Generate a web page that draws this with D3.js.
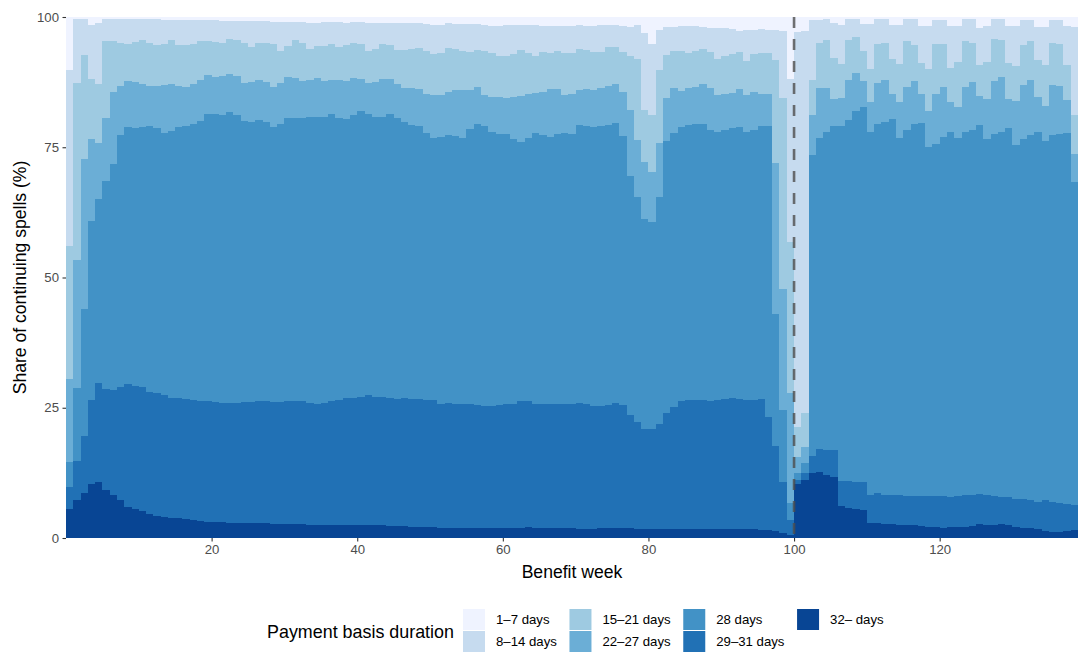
<!DOCTYPE html>
<html>
<head>
<meta charset="utf-8">
<script src="https://cdn.jsdelivr.net/npm/d3@7"></script>
<style>
  body { margin: 0; background: #fff; }
  svg { display: block; }
  text { font-family: "Liberation Sans", Arial, Helvetica, sans-serif; }
</style>
</head>
<body>
<svg id="chart" width="1078" height="652"></svg>
<script>
// Benefit weeks 1..139; each bar covers the interval [week-1, week]
const weeks = d3.range(1, 140);

// Payment basis duration categories, from top of the stack to the bottom
const durationLabels = ["1–7 days", "8–14 days", "15–21 days", "22–27 days", "28 days", "29–31 days", "32– days"];

// Share of continuing spells (%) by payment basis duration, one value per benefit week
const share_1_7 = [
  10.1, 0.4, 0.3, 1.5, 1.2, 0.4, 0.4, 0.4, 0.4, 0.4,
  0.4, 0.4, 0.4, 0.6, 0.6, 0.6, 0.6, 0.6, 0.6, 0.6,
  0.6, 0.7, 0.7, 0.7, 0.7, 0.7, 0.7, 0.7, 0.9, 0.9,
  0.9, 1.0, 1.0, 1.2, 1.1, 1.0, 1.0, 1.0, 1.2, 1.0,
  1.0, 1.2, 1.2, 1.2, 1.2, 1.2, 1.2, 1.2, 1.2, 1.4,
  1.5, 1.5, 1.2, 1.3, 1.3, 1.4, 1.4, 1.5, 1.7, 1.7,
  1.6, 1.6, 1.5, 1.6, 1.6, 1.7, 1.7, 1.8, 1.8, 1.8,
  1.5, 1.7, 1.7, 1.6, 1.5, 1.5, 1.7, 1.9, 1.5, 3.0,
  5.1, 2.5, 2.0, 1.9, 1.7, 1.7, 1.7, 1.9, 2.1, 2.1,
  2.2, 2.3, 2.6, 2.5, 2.4, 2.3, 2.4, 2.4, 2.6, 11.9,
  2.8, 2.6, 0.6, 0.5, 0.4, 1.2, 1.5, 0.4, 0.4, 1.4,
  1.4, 0.4, 0.4, 1.5, 1.5, 0.4, 0.4, 1.7, 1.7, 0.6,
  0.6, 1.7, 1.7, 0.4, 0.4, 2.2, 1.7, 0.4, 0.4, 1.7,
  1.7, 0.6, 0.6, 1.9, 1.9, 0.6, 0.6, 1.7, 2.0
];
const share_8_14 = [
  33.9, 12.2, 7.0, 10.4, 11.7, 4.2, 4.2, 4.5, 4.7, 4.4,
  4.0, 4.5, 4.9, 4.5, 3.9, 4.8, 4.8, 4.5, 4.1, 4.1,
  4.2, 4.2, 3.6, 3.8, 4.2, 5.1, 4.2, 4.2, 4.3, 5.6,
  4.6, 3.5, 3.9, 4.9, 4.5, 4.5, 4.2, 4.8, 4.2, 3.9,
  4.1, 5.3, 4.9, 4.0, 4.2, 5.2, 5.2, 5.0, 4.7, 5.1,
  5.6, 5.5, 4.8, 4.8, 5.3, 5.3, 5.0, 5.1, 5.2, 5.7,
  5.8, 5.5, 4.8, 5.4, 5.9, 5.1, 5.2, 4.8, 5.2, 5.2,
  4.6, 4.6, 5.1, 5.2, 4.3, 4.3, 5.1, 5.6, 6.5, 14.8,
  13.7, 7.7, 5.2, 4.6, 4.8, 5.3, 4.8, 4.3, 4.6, 6.0,
  5.2, 4.8, 4.2, 5.9, 4.7, 4.7, 4.6, 5.9, 13.0, 31.2,
  75.8, 73.5, 11.5, 4.5, 4.0, 6.7, 7.5, 4.1, 3.5, 5.1,
  8.5, 4.8, 4.5, 6.6, 7.5, 4.2, 5.0, 7.1, 8.3, 4.6,
  4.5, 8.0, 6.9, 4.2, 4.5, 7.0, 6.9, 3.8, 4.0, 7.1,
  7.8, 4.8, 4.0, 6.4, 7.3, 4.3, 4.5, 7.6, 16.8
];
const share_15_21 = [
  25.5, 34.0, 20.0, 11.5, 11.2, 14.7, 9.7, 8.3, 7.2, 7.7,
  8.5, 8.3, 7.9, 8.0, 8.4, 7.8, 8.1, 7.8, 7.3, 6.5,
  6.7, 6.4, 6.6, 6.8, 7.8, 6.6, 7.2, 7.5, 8.2, 6.1,
  6.1, 7.3, 7.3, 6.0, 6.1, 6.7, 6.8, 6.3, 6.8, 6.8,
  6.8, 6.2, 6.4, 6.7, 6.5, 6.5, 7.2, 7.5, 7.9, 8.3,
  7.9, 8.0, 8.4, 8.0, 7.5, 7.3, 7.1, 8.4, 8.4, 8.0,
  8.2, 8.2, 8.9, 7.7, 7.1, 7.5, 6.9, 7.3, 8.0, 7.7,
  7.9, 7.5, 7.2, 6.9, 7.4, 7.1, 7.5, 10.3, 15.6, 10.0,
  10.9, 14.0, 8.4, 7.2, 7.7, 6.7, 6.9, 6.7, 7.0, 6.9,
  7.4, 7.4, 7.0, 6.6, 7.2, 7.8, 7.8, 19.8, 36.6, 29.1,
  5.8, 6.4, 6.7, 8.7, 9.3, 7.8, 6.6, 7.6, 6.8, 5.7,
  6.5, 7.5, 7.2, 6.6, 7.4, 8.8, 6.9, 5.9, 8.0, 9.5,
  8.4, 6.6, 8.6, 8.9, 7.5, 6.0, 7.2, 8.1, 7.2, 7.0,
  6.6, 7.7, 7.4, 7.1, 7.9, 8.2, 8.1, 6.6, 7.5
];
const share_22_27 = [
  16.0, 24.7, 28.8, 15.8, 10.9, 12.2, 13.9, 9.5, 8.8, 8.9,
  8.3, 7.7, 8.2, 9.1, 9.0, 8.0, 7.5, 7.6, 7.9, 7.4,
  7.2, 7.6, 7.3, 7.6, 7.2, 7.8, 7.7, 7.8, 7.7, 7.9,
  7.7, 7.5, 7.1, 7.0, 7.4, 6.9, 6.7, 7.3, 7.3, 7.2,
  6.2, 5.9, 6.6, 7.2, 6.8, 6.5, 6.6, 7.0, 7.1, 7.5,
  8.3, 8.0, 8.3, 8.7, 9.1, 7.5, 7.1, 5.9, 6.8, 7.1,
  6.9, 8.1, 8.7, 8.5, 7.6, 8.4, 9.2, 8.6, 7.3, 7.8,
  6.7, 7.2, 7.2, 7.3, 7.5, 7.5, 8.5, 12.7, 10.9, 11.0,
  9.6, 10.3, 8.2, 8.5, 7.0, 7.0, 7.2, 7.7, 8.0, 7.0,
  6.9, 6.9, 7.4, 7.0, 7.4, 6.2, 6.2, 28.9, 23.2, 21.1,
  3.2, 3.1, 7.7, 9.6, 8.3, 5.3, 5.3, 7.7, 7.4, 5.0,
  5.7, 7.8, 8.0, 4.9, 6.9, 8.2, 8.3, 5.7, 6.9, 9.7,
  9.5, 5.7, 6.1, 8.6, 9.3, 5.5, 7.7, 10.2, 10.4, 5.6,
  8.5, 10.3, 10.7, 6.7, 6.7, 9.6, 9.3, 6.4, 5.4
];
const share_28 = [
  4.8, 14.0, 24.3, 34.4, 35.2, 39.9, 43.3, 48.3, 49.4, 49.4,
  49.9, 51.1, 50.8, 50.3, 51.2, 51.9, 52.4, 53.1, 53.9, 55.2,
  55.2, 55.1, 55.8, 55.1, 54.0, 53.7, 54.0, 53.6, 52.8, 53.4,
  54.5, 54.4, 54.5, 54.9, 55.1, 54.9, 55.1, 54.2, 53.6, 54.2,
  54.8, 54.0, 53.9, 53.8, 54.5, 53.9, 52.9, 52.6, 52.5, 51.3,
  50.3, 51.2, 51.3, 51.4, 51.0, 52.8, 53.9, 53.8, 52.6, 51.9,
  51.7, 50.8, 49.9, 50.6, 52.0, 51.5, 51.3, 51.8, 51.9, 51.7,
  53.3, 53.2, 53.5, 53.7, 53.7, 53.6, 51.6, 45.9, 43.2, 40.2,
  39.7, 43.6, 52.3, 52.7, 52.6, 52.9, 53.0, 52.9, 52.0, 51.5,
  51.7, 51.8, 52.1, 51.5, 51.9, 52.4, 55.7, 25.3, 13.8, 3.2,
  1.2, 2.0, 57.7, 59.7, 61.2, 62.2, 68.1, 69.3, 71.1, 72.1,
  69.6, 70.9, 71.6, 72.2, 68.5, 70.3, 71.3, 71.5, 67.0, 67.6,
  68.9, 70.1, 68.6, 69.6, 70.1, 70.9, 68.2, 69.4, 70.1, 70.8,
  68.0, 69.2, 70.0, 70.9, 68.9, 70.4, 70.7, 71.1, 61.9
];
const share_29_31 = [
  4.1, 7.5, 10.9, 16.0, 19.1, 19.3, 20.2, 21.8, 23.5, 23.6,
  23.8, 23.4, 23.6, 23.5, 23.1, 23.1, 23.0, 22.9, 23.0, 23.1,
  23.0, 23.0, 23.1, 23.1, 23.3, 23.3, 23.4, 23.4, 23.5, 23.5,
  23.6, 23.7, 23.6, 23.5, 23.4, 23.6, 23.8, 24.0, 24.4, 24.4,
  24.6, 24.9, 24.6, 24.7, 24.5, 24.4, 24.6, 24.5, 24.4, 24.2,
  24.2, 23.8, 24.0, 23.8, 23.8, 23.8, 23.6, 23.4, 23.4, 23.7,
  23.9, 23.8, 24.2, 24.1, 23.8, 23.8, 23.7, 23.7, 23.8, 23.9,
  24.2, 24.0, 23.5, 23.4, 23.7, 24.1, 23.7, 21.7, 20.5, 19.2,
  19.2, 20.1, 22.1, 23.3, 24.4, 24.6, 24.6, 24.7, 24.5, 24.7,
  24.8, 25.1, 25.0, 24.8, 24.7, 25.0, 21.8, 16.4, 9.8, 2.9,
  0.9, 1.2, 3.4, 4.4, 4.7, 5.0, 4.8, 5.1, 5.3, 5.3,
  5.4, 5.8, 5.6, 5.6, 5.8, 5.7, 5.7, 5.8, 5.9, 5.9,
  6.1, 5.7, 5.9, 6.1, 5.9, 5.8, 5.9, 5.7, 5.3, 5.4,
  5.2, 5.4, 5.3, 5.2, 5.9, 5.7, 5.6, 5.2, 4.9
];
const share_32 = [
  5.6, 7.2, 8.7, 10.4, 10.7, 9.3, 8.3, 7.2, 6.0, 5.6,
  5.1, 4.6, 4.2, 4.0, 3.8, 3.8, 3.6, 3.5, 3.2, 3.1,
  3.1, 3.0, 2.9, 2.9, 2.8, 2.8, 2.8, 2.8, 2.6, 2.6,
  2.6, 2.6, 2.6, 2.5, 2.4, 2.4, 2.4, 2.4, 2.5, 2.5,
  2.5, 2.5, 2.4, 2.4, 2.3, 2.3, 2.3, 2.2, 2.2, 2.2,
  2.2, 2.0, 2.0, 2.0, 2.0, 1.9, 1.9, 1.9, 1.9, 1.9,
  1.9, 2.0, 2.0, 2.1, 2.0, 2.0, 2.0, 2.0, 2.0, 1.9,
  1.8, 1.8, 1.8, 1.9, 1.9, 1.9, 1.9, 1.9, 1.8, 1.8,
  1.8, 1.8, 1.8, 1.8, 1.8, 1.8, 1.8, 1.8, 1.8, 1.8,
  1.8, 1.7, 1.7, 1.7, 1.7, 1.6, 1.5, 1.3, 1.0, 0.6,
  10.3, 11.2, 12.4, 12.6, 12.1, 11.8, 6.2, 5.8, 5.5, 5.4,
  2.9, 2.8, 2.7, 2.6, 2.4, 2.4, 2.4, 2.3, 2.2, 2.1,
  2.0, 2.2, 2.2, 2.2, 2.3, 2.6, 2.4, 2.4, 2.6, 2.4,
  2.2, 2.0, 2.0, 1.8, 1.4, 1.2, 1.2, 1.4, 1.5
];

// Axis ticks and the week marking the end of the benefit period
const xTickValues = [20, 40, 60, 80, 100, 120];
const yTickValues = [0, 25, 50, 75, 100];
const benefitLimitWeek = 100;

// Sequential blues, lightest for the shortest duration
const durationColors = ["#eff3ff", "#c6dbef", "#9ecae1", "#6baed6", "#4292c6", "#2171b5", "#084594"];

const seriesArrays = [share_1_7, share_8_14, share_15_21, share_22_27, share_28, share_29_31, share_32];
const rows = weeks.map((w, i) => {
  const r = { week: w };
  durationLabels.forEach((lab, k) => { r[lab] = seriesArrays[k][i]; });
  return r;
});

const svg = d3.select("#chart");
const margin = { left: 66, right: 0, top: 17, bottom: 114 };
const W = 1078, H = 652;

const x = d3.scaleLinear().domain([0, weeks.length]).range([margin.left, W - margin.right]);
const y = d3.scaleLinear().domain([0, 100]).range([H - margin.bottom, margin.top]);

const color = d3.scaleOrdinal().domain(durationLabels).range(durationColors);

// Stack from the longest duration at the bottom to the shortest at the top
const stackKeys = durationLabels.slice().reverse();
const stacked = d3.stack()
  .keys(stackKeys)
  .offset(d3.stackOffsetExpand)(rows);

const plot = svg.append("g");
plot.selectAll("g.series")
  .data(stacked)
  .join("g")
  .attr("class", "series")
  .attr("fill", d => color(d.key))
  .attr("shape-rendering", "crispEdges")
  .selectAll("rect")
  .data(d => d)
  .join("rect")
  .attr("x", d => x(d.data.week - 1))
  .attr("width", d => x(d.data.week) - x(d.data.week - 1))
  .attr("y", d => y(d[1] * 100))
  .attr("height", d => y(d[0] * 100) - y(d[1] * 100));

// Dashed marker at the end of the benefit period
svg.append("line")
  .attr("x1", x(benefitLimitWeek)).attr("x2", x(benefitLimitWeek))
  .attr("y1", y(100)).attr("y2", y(0))
  .attr("stroke", "#4d4d4d")
  .attr("stroke-opacity", 0.8)
  .attr("stroke-width", 2.6)
  .attr("stroke-dasharray", "11,11");

// Axes
const tickFont = 13.2;
const xAxis = svg.append("g")
  .attr("transform", `translate(0,${y(0)})`)
  .call(d3.axisBottom(x).tickValues(xTickValues).tickSize(3.5).tickPadding(3.5));
const yAxis = svg.append("g")
  .attr("transform", `translate(${margin.left},0)`)
  .call(d3.axisLeft(y).tickValues(yTickValues).tickSize(3.5).tickPadding(3.5));

[xAxis, yAxis].forEach(g => {
  g.select(".domain").remove();
  g.selectAll(".tick line").attr("stroke", "#333333").attr("stroke-width", 1.1);
  g.selectAll(".tick text")
    .attr("fill", "#4d4d4d")
    .style("font-size", tickFont + "px")
    .style("font-family", '"Liberation Sans", Arial, Helvetica, sans-serif');
});

// Axis titles
const titleFont = 17.6;
svg.append("text")
  .attr("x", (x.range()[0] + x.range()[1]) / 2)
  .attr("y", 578)
  .attr("text-anchor", "middle")
  .style("font-size", titleFont + "px")
  .attr("fill", "#000")
  .text("Benefit week");

svg.append("text")
  .attr("transform", `translate(26,${(y(0) + y(100)) / 2}) rotate(-90)`)
  .attr("text-anchor", "middle")
  .style("font-size", titleFont + "px")
  .attr("fill", "#000")
  .text("Share of continuing spells (%)");

// Legend: title on the left, keys in a two-row grid filled column by column
const legend = svg.append("g");
legend.append("text")
  .attr("x", 267)
  .attr("y", 638)
  .style("font-size", "17.9px")
  .attr("fill", "#000")
  .text("Payment basis duration");

const keyW = 22, keyH = 21, keyGap = 1, labelOffset = 11, colGap = 12.6;
const rowTops = [609, 609 + keyH + keyGap];
let colX = 463;
const nCols = Math.ceil(durationLabels.length / 2);
for (let c = 0; c < nCols; c++) {
  let maxW = 0;
  for (let r = 0; r < 2; r++) {
    const k = c * 2 + r;
    if (k >= durationLabels.length) break;
    legend.append("rect")
      .attr("x", colX).attr("y", rowTops[r])
      .attr("width", keyW).attr("height", keyH)
      .attr("fill", color(durationLabels[k]));
    const t = legend.append("text")
      .attr("x", colX + keyW + labelOffset)
      .attr("y", rowTops[r] + keyH / 2)
      .attr("dy", "0.35em")
      .style("font-size", tickFont + "px")
      .attr("fill", "#000")
      .text(durationLabels[k]);
    maxW = Math.max(maxW, t.node().getComputedTextLength());
  }
  colX += keyW + labelOffset + maxW + colGap;
}
</script>
</body>
</html>
